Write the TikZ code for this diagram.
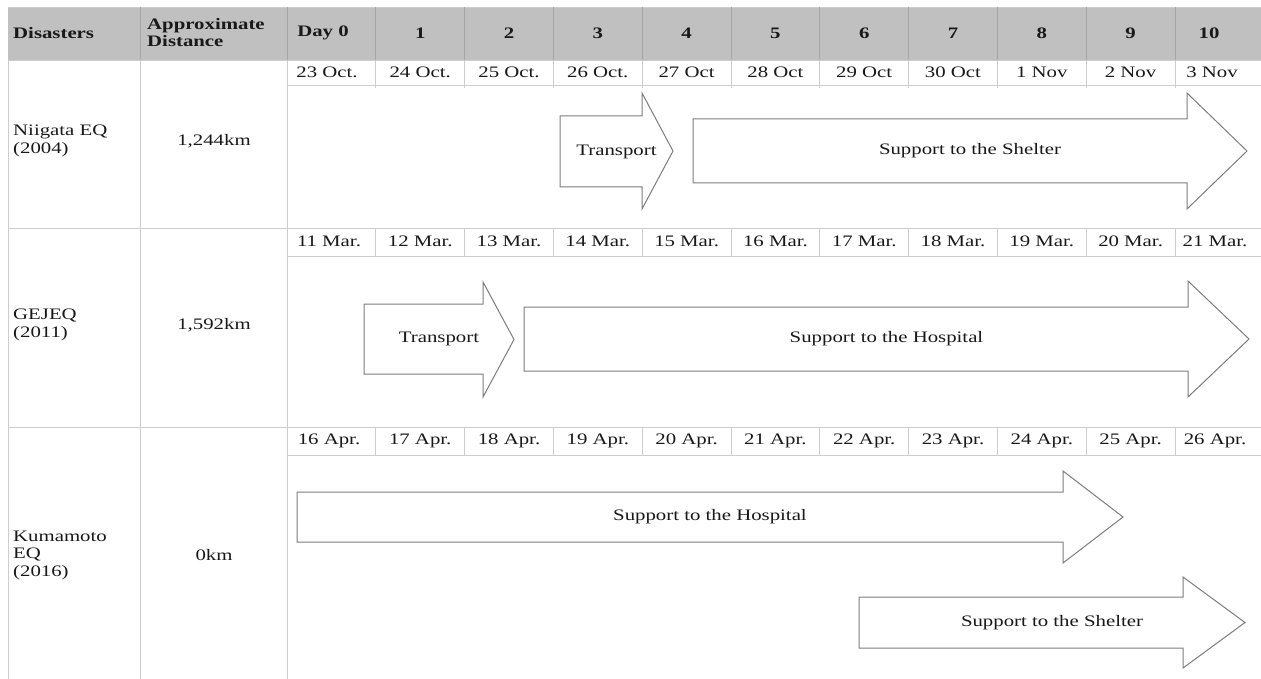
\documentclass[tikz,border=0pt]{standalone}
\usepackage{fontspec}
\setmainfont{Liberation Serif}[FakeStretch=1.3]
\definecolor{headc}{RGB}{192,192,192}
\definecolor{hgridc}{RGB}{165,165,165}
\definecolor{gridc}{RGB}{205,205,205}
\definecolor{arrc}{RGB}{125,125,125}
\definecolor{txtc}{RGB}{25,25,25}
\newcommand\fatarrow[9]{%
  \draw[arr] (#2,#5) -- (#3,#5) -- (#3,#7) -- (#4,{(#7+#8)/2}) -- (#3,#8) -- (#3,#6) -- (#2,#6) -- cycle;
  \node[dt] (#1) at ({(#2+#4)/2},{(#5+#6)/2}) {#9};
}
\begin{document}
\begin{tikzpicture}[x=1pt,y=-1pt,
  grid/.style={draw=gridc, line width=0.9pt},
  hgrid/.style={draw=hgridc, line width=0.8pt},
  hd/.style={font=\fontsize{16}{17}\selectfont\bfseries, text=txtc, inner sep=0},
  dt/.style={font=\fontsize{16}{17}\selectfont, text=txtc, inner sep=0},
  lbl/.style={font=\fontsize{16}{17.5}\selectfont, text=txtc, inner sep=0, align=left},
  arr/.style={draw=arrc, line width=1pt, fill=white, line join=miter}]
\useasboundingbox (0,0) rectangle (1261,679);
\fill[white] (0,0) rectangle (1261,679);
% header band
\fill[headc] (8,7) rectangle (1261,60);
\draw[gridc, line width=0.9pt] (8,7) -- (1261,7);
\foreach \x in {140,287} \draw[hgrid] (\x,7) -- (\x,60);
\foreach \k in {1,...,10} \draw[hgrid] ({287+88.8*\k},7) -- ({287+88.8*\k},60);
% body grid
\foreach \x in {8,140,287} \draw[grid] (\x,60) -- (\x,679);
\foreach \y in {60,228,427} \draw[grid] (8,\y) -- (1261,\y);
\foreach \y in {85,256,455} \draw[grid] (287,\y) -- (1261,\y);
\foreach \y in {60,228,427} {
  \foreach \k in {1,...,10} \draw[grid] ({287+88.8*\k},\y) -- ({287+88.8*\k},\y+28);
}
% header texts
\node[hd, anchor=west] (hdis) at (13,33) {Disasters};
\node[hd, anchor=west, align=left] (hdist) at (147,33) {Approximate\\Distance};
\foreach \lab [count=\i from 0] in {Day 0,1,2,3,4,5,6,7,8,9,10} {
  \pgfmathsetmacro\xx{\i==0 ? 323 : (\i==10 ? 1209 : 287+88.8*(\i+0.5))}
  \node[hd] (day\i) at (\xx,33) {\lab};
}
% date rows
\foreach \lab [count=\i from 0] in {23 Oct.,24 Oct.,25 Oct.,26 Oct.,27 Oct,28 Oct,29 Oct,30 Oct,1 Nov,2 Nov,3 Nov} {
  \pgfmathsetmacro\xx{\i==0 ? 327 : (\i==10 ? 1212 : 287+88.8*(\i+0.5))}
  \node[dt] (da\i) at (\xx,72.5) {\lab};
}
\foreach \lab [count=\i from 0] in {11 Mar.,12 Mar.,13 Mar.,14 Mar.,15 Mar.,16 Mar.,17 Mar.,18 Mar.,19 Mar.,20 Mar.,21 Mar.} {
  \pgfmathsetmacro\xx{\i==0 ? 329 : (\i==10 ? 1215 : 287+88.8*(\i+0.5))}
  \node[dt] (db\i) at (\xx,241.5) {\lab};
}
\foreach \lab [count=\i from 0] in {16 Apr.,17 Apr.,18 Apr.,19 Apr.,20 Apr.,21 Apr.,22 Apr.,23 Apr.,24 Apr.,25 Apr.,26 Apr.} {
  \pgfmathsetmacro\xx{\i==0 ? 329 : (\i==10 ? 1215 : 287+88.8*(\i+0.5))}
  \node[dt] (dc\i) at (\xx,441) {\lab};
}
% row labels
\node[lbl, anchor=west] (n1) at (13,141) {Niigata EQ\\(2004)};
\node[dt] (k1) at (214,141) {1,244km};
\node[lbl, anchor=west] (n2) at (13,325) {GEJEQ\\(2011)};
\node[dt] (k2) at (214,325) {1,592km};
\node[lbl, anchor=west] (n3) at (13,555) {Kumamoto\\EQ\\(2016)};
\node[dt] (k3) at (214,555) {0km};
% arrows
\fatarrow{a1}{560}{642}{673}{116}{187}{93}{209}{Transport}
\fatarrow{a2}{693}{1187}{1247}{119}{183}{93}{209}{Support to the Shelter}
\fatarrow{a3}{364}{483}{514}{304}{374}{282}{397}{Transport}
\fatarrow{a4}{524}{1188}{1249}{307}{371}{281}{397}{Support to the Hospital}
\fatarrow{a5}{297}{1063}{1123}{492}{542}{471}{563}{Support to the Hospital}
\fatarrow{a6}{859}{1183}{1245}{597}{648}{577}{668}{Support to the Shelter}
\end{tikzpicture}
\end{document}
